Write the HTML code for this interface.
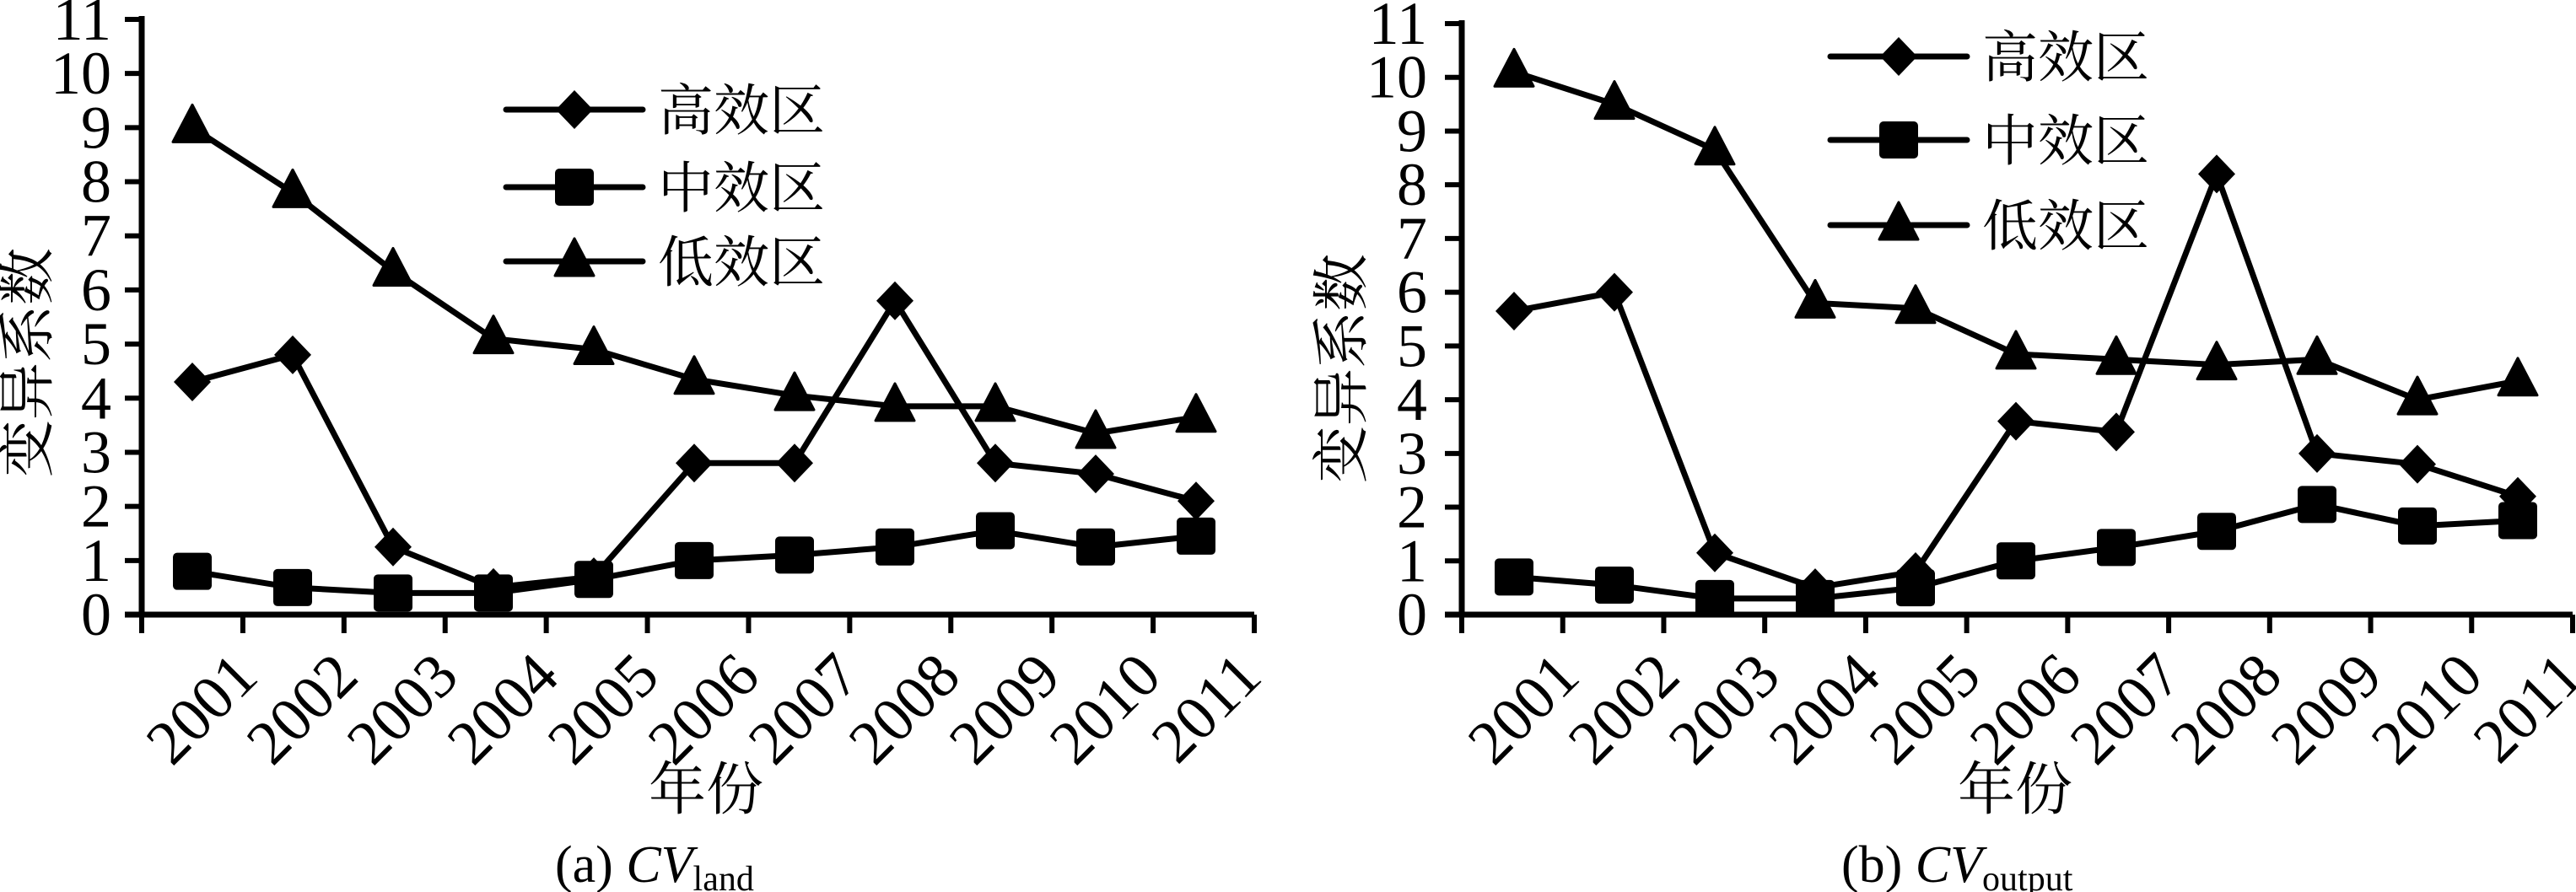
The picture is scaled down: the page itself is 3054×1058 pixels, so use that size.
<!DOCTYPE html>
<html><head><meta charset="utf-8"><style>
html,body{margin:0;padding:0;background:#fff;}
svg{display:block;}
.t{font-family:"Liberation Serif","Noto Serif CJK SC",serif;fill:#000;}
.c{font-family:"Liberation Serif","Noto Serif CJK SC","Noto Sans CJK SC",serif;fill:#000;}
</style></head><body>
<svg id="fig" width="3054" height="1058" viewBox="0 0 3054 1058" xmlns="http://www.w3.org/2000/svg"></svg>
<script>
const years = ["2001","2002","2003","2004","2005","2006","2007","2008","2009","2010","2011"];
const yTicks = [0,1,2,3,4,5,6,7,8,9,10,11];
const seriesNames = ["高效区","中效区","低效区"];
const landHigh = [4.3,4.8,1.25,0.5,0.7,2.8,2.8,5.8,2.8,2.6,2.1];
const landMid = [0.8,0.5,0.4,0.4,0.65,1.0,1.1,1.25,1.55,1.25,1.45];
const landLow = [9.0,7.8,6.35,5.1,4.9,4.35,4.05,3.85,3.85,3.35,3.65];
const outHigh = [5.65,6.0,1.15,0.5,0.8,3.6,3.4,8.2,3.0,2.8,2.2];
const outMid = [0.7,0.55,0.3,0.3,0.5,1.0,1.25,1.55,2.05,1.65,1.75];
const outLow = [10.1,9.5,8.65,5.8,5.7,4.85,4.75,4.65,4.75,4.0,4.35];

const NS="http://www.w3.org/2000/svg";
const svg=document.getElementById('fig');
function mk(tag,attrs,parent){const e=document.createElementNS(NS,tag);for(const k in attrs)e.setAttribute(k,attrs[k]);(parent||svg).appendChild(e);return e;}

function marker(g,type,x,y){
  let e;
  if(type===0){e=mk('polygon',{points:`${x},${y-23} ${x+22},${y} ${x},${y+23} ${x-22},${y}`,fill:'#000','stroke-linejoin':'round'},g);}
  else if(type===1){e=mk('rect',{x:x-23,y:y-22,width:46,height:44,rx:5,fill:'#000'},g);}
  else {e=mk('polygon',{points:`${x},${y-27} ${x+23},${y+17} ${x-23},${y+17}`,fill:'#000','stroke':'#000','stroke-width':3,'stroke-linejoin':'round'},g);}
  return e;
}

function chart(cfg){
  const g=mk('g',{});
  
  
  const band=(cfg.xEnd-cfg.x0)/years.length;
  const xs=i=>cfg.x0+cfg.off+i*cfg.step;
  const ys=v=>cfg.y0-v*(cfg.y0-cfg.y11)/11;
  // axes
  const ya=mk('line',{x1:cfg.x0,y1:cfg.y11-4,x2:cfg.x0,y2:cfg.y0+3,stroke:'#000','stroke-width':7},g);
  
  
  const xa=mk('line',{x1:cfg.x0-20,y1:cfg.y0,x2:cfg.xEnd,y2:cfg.y0,stroke:'#000','stroke-width':7},g);
  
  
  yTicks.forEach(v=>{
    const y=ys(v);
    mk('line',{x1:cfg.x0-20,y1:y,x2:cfg.x0,y2:y,stroke:'#000','stroke-width':6},g);
    const t=mk('text',{x:cfg.labR,y:y+24,'text-anchor':'end','font-size':72,class:'t'},g);
    t.textContent=v;
    
    
  });
  for(let k=0;k<=years.length;k++){
    const x=cfg.x0+k*band;
    mk('line',{x1:x,y1:cfg.y0,x2:x,y2:cfg.y0+22,stroke:'#000','stroke-width':6},g);
  }
  years.forEach((yr,i)=>{
    const x=xs(i)+44, y=cfg.y0+40;
    const t=mk('text',{x:x,y:y,'text-anchor':'end','font-size':74,class:'t',transform:`rotate(-45 ${x} ${y})`,dy:'0.7em'},g);
    t.textContent=yr;
    
    
  });
  // series
  cfg.series.forEach((arr,si)=>{
    const sg=mk('g',{},g);
    
    
    const pts=arr.map((v,i)=>xs(i)+','+ys(v)).join(' ');
    mk('polyline',{points:pts,fill:'none',stroke:'#000','stroke-width':7,'stroke-linejoin':'round'},sg);
    arr.forEach((v,i)=>{
      const m=marker(sg,si,xs(i),ys(v));
      
      
    });
  });
  // legend
  seriesNames.forEach((n,si)=>{
    const lg=mk('g',{},g);
    
    
    const y=cfg.legY[si];
    mk('line',{x1:cfg.legX,y1:y,x2:cfg.legX+162,y2:y,stroke:'#000','stroke-width':7,'stroke-linecap':'round'},lg);
    marker(lg,si,cfg.legX+81,y);
    const t=mk('text',{x:cfg.legX+180,y:y+24,'font-size':66,class:'c'},lg);
    t.textContent=n;
  });
  // y title
  const yt=mk('text',{x:cfg.ytX,y:cfg.ytY,'text-anchor':'middle','font-size':68,class:'c',transform:`rotate(-90 ${cfg.ytX} ${cfg.ytY})`,dy:'0.35em'},g);
  yt.textContent='变异系数';
  
  
  const xt=mk('text',{x:cfg.xtX,y:960,'text-anchor':'middle','font-size':68,class:'c'},g);
  xt.textContent='年份';
  
  
  const cap=mk('text',{x:cfg.capX,y:1046,'font-size':62,class:'t'},g);
  
  
  const a=mk('tspan',{},cap);a.textContent=cfg.capA+' ';
  const b=mk('tspan',{'font-style':'italic'},cap);b.textContent='CV';
  const s=mk('tspan',{'font-size':42,dy:10},cap);s.textContent=cfg.capSub;
}

chart({name:'chart-cv-land',x0:168,xEnd:1487,off:60,step:119,y0:729,y11:23,labR:132,
  series:[landHigh,landMid,landLow],legX:600,legY:[130,222,310],ytX:32,ytY:430,xtX:837,capX:658,capA:'(a)',capSub:'land'});
chart({name:'chart-cv-output',x0:1733,xEnd:3050,off:62,step:119,y0:729,y11:28,labR:1692,
  series:[outHigh,outMid,outLow],legX:2170,legY:[67,166,267],ytX:1590,ytY:437,xtX:2389,capX:2183,capA:'(b)',capSub:'output'});
</script>
</body></html>
